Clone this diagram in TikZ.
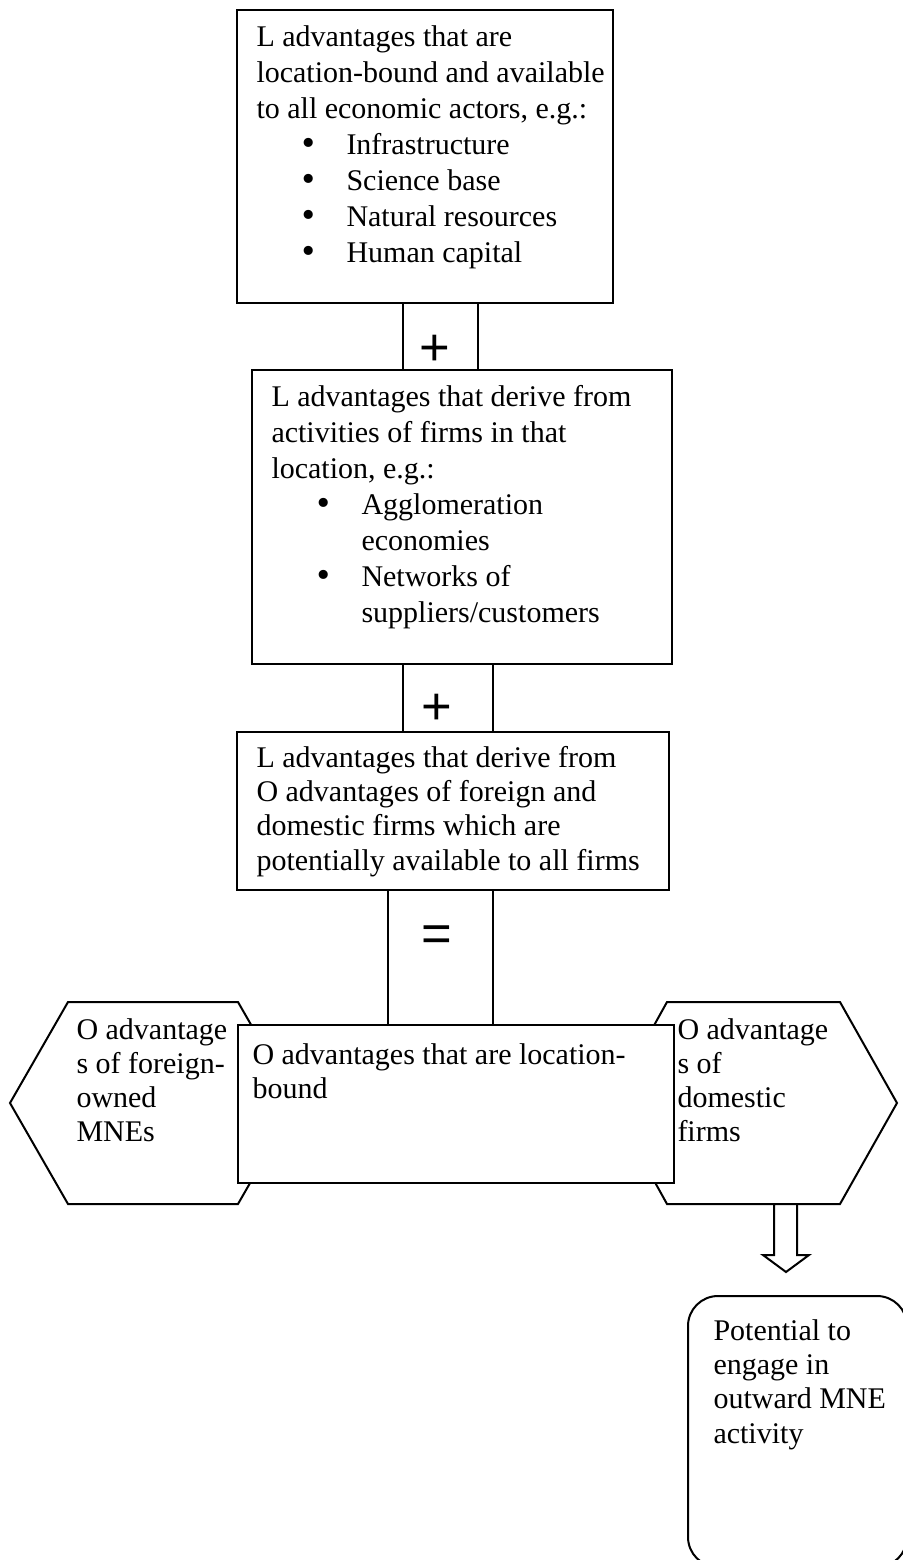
\documentclass[tikz,border=0pt]{standalone}
\usepackage{fontspec}
\setmainfont{Liberation Serif}
\newfontfamily\signfont{Liberation Sans}
\newfontfamily\bulfont{DejaVu Sans}
\tikzset{%
  % Specifications for style of nodes:
  base/.style = {
    rectangle,
    draw=black,
    line width=0.8pt,
    fill=white,
    inner sep=0pt,
    anchor=north west
  },
  link/.style = {base},
  outbox/.style = {base, rounded corners=12pt},
  hexa/.style = {draw=black, line width=0.8pt, fill=white},
  blockarrow/.style = {draw=black, line width=0.8pt, fill=white},
  txt/.style = {anchor=north west, align=left, inner sep=0pt,
    font=\fontsize{12}{13.7}\selectfont},
  widetxt/.style = {txt, font=\fontsize{12}{14.4}\selectfont},
  hextxt/.style = {txt, font=\fontsize{12}{13.6}\selectfont},
  sign/.style = {inner sep=0pt, font=\signfont\fontsize{21}{21}\selectfont},
}
\newcommand{\bigbul}{{\bulfont\fontsize{12.5}{14}\selectfont •}}
\newcommand{\bulline}[1]{\hspace*{17pt}\makebox[19pt][l]{\bigbul}#1}
\newcommand{\bulcont}[1]{\hspace*{36pt}#1}

\begin{document}
\begin{tikzpicture}[x=0.4pt, y=-0.4pt]
  \useasboundingbox (0,0) rectangle (902,1560);
  % hexagons
  \draw[hexa] (10,1103) -- (68,1002) -- (238,1002) -- (296,1103)
    -- (238,1204) -- (68,1204) -- cycle;
  \draw[hexa] (611,1103) -- (667,1002) -- (840,1002) -- (897,1103)
    -- (840,1204) -- (667,1204) -- cycle;
  % boxes
  \node (lbound) [base, minimum width=150.4pt, minimum height=117.2pt] at (236,9) {};
  \node (lderive) [base, minimum width=168pt, minimum height=117.6pt] at (251,369) {};
  \node (oderive) [base, minimum width=172.8pt, minimum height=63.2pt] at (236,731) {};
  \node (plusA) [link, minimum width=30pt, minimum height=26.8pt] at (402,302) {};
  \node (plusB) [link, minimum width=36pt, minimum height=27.2pt] at (402,663) {};
  \node (equal) [link, minimum width=42pt, minimum height=54pt] at (387,889) {};
  \node (obound) [base, minimum width=174.4pt, minimum height=63.2pt] at (237,1024) {};
  \node (outward) [outbox, minimum width=87.6pt, minimum height=108.4pt] at (687,1295) {};
  % arrow
  \draw[blockarrow] (774,1204) -- (774,1255) -- (763,1255) -- (786,1272)
    -- (809,1255) -- (797,1255) -- (797,1204) -- cycle;
  % signs
  \node (plusAsign) [sign] at (435,350) {+};
  \node (plusBsign) [sign] at (437,709) {+};
  \node (equalsign) [sign] at (437,939) {=};
  % texts
  \node (lboundtxt) [widetxt] at (256,20.8)
  {\strut L advantages that are\\
    location-bound and available\\
    to all economic actors, e.g.:\\
    \bulline{Infrastructure}\\
    \bulline{Science base}\\
    \bulline{Natural resources}\\
    \bulline{Human capital}};
  \node (lderivetxt) [widetxt] at (271,380.8)
  {\strut L advantages that derive from\\
    activities of firms in that\\
    location, e.g.:\\
    \bulline{Agglomeration}\\
    \bulcont{economies}\\
    \bulline{Networks of}\\
    \bulcont{suppliers/customers}};
  \node (oderivetxt) [txt] at (256,743)
  {\strut L advantages that derive from\\
    O advantages of foreign and\\
    domestic firms which are\\
    potentially available to all firms};
  \node (foreigntxt) [hextxt] at (76,1015.2)
  {\strut O advantage\\ s of foreign-\\ owned\\ MNEs};
  \node (domestictxt) [hextxt] at (677,1015.2)
  {\strut O advantage\\ s of\\ domestic\\ firms};
  \node (oboundtxt) [hextxt] at (252,1040.2)
  {\strut O advantages that are location-\\ bound};
  \node (outwardtxt) [txt] at (713,1316)
  {\strut Potential to\\ engage in\\ outward MNE\\ activity};
\end{tikzpicture}
\end{document}
